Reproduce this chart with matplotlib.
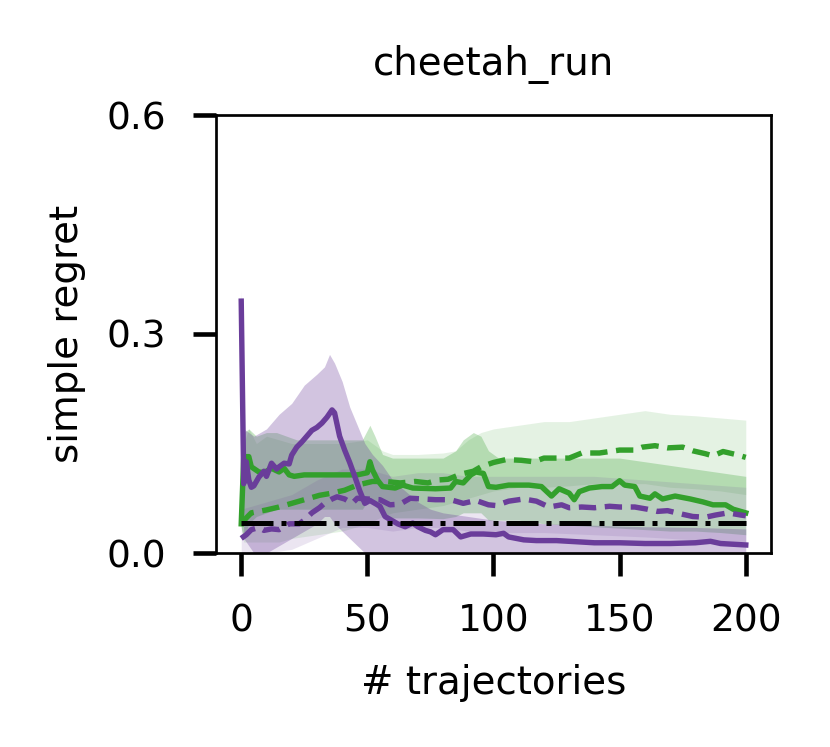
import numpy as np
import matplotlib
matplotlib.use("Agg")
import matplotlib.pyplot as plt

title = "cheetah_run"
xlabel = "# trajectories"
ylabel = "simple regret"
xticks = [0, 50, 100, 150, 200]
yticks = [0.0, 0.3, 0.6]
ytick_labels = ["0.0", "0.3", "0.6"]

# purple solid
ps_x = [0, 1, 2, 3, 4, 5, 7, 9, 10, 12, 14, 15, 17, 19, 20, 22, 24, 26, 28, 30, 32, 34, 36, 37, 39, 41, 43, 45, 47,
        49, 51, 53, 55, 57, 60, 62, 65, 68, 70, 73, 75, 77, 80, 84, 87, 91, 96, 101, 104, 106, 112, 117, 125, 130,
        140, 150, 160, 170, 180, 186, 190, 200]
ps_y = [0.345, 0.095, 0.125, 0.100, 0.090, 0.092, 0.104, 0.112, 0.105, 0.123, 0.115, 0.118, 0.123, 0.122, 0.134,
        0.145, 0.152, 0.160, 0.168, 0.172, 0.178, 0.186, 0.196, 0.192, 0.160, 0.141, 0.124, 0.105, 0.085, 0.068,
        0.072, 0.068, 0.064, 0.050, 0.044, 0.040, 0.036, 0.041, 0.036, 0.031, 0.029, 0.025, 0.032, 0.032, 0.022,
        0.026, 0.026, 0.025, 0.027, 0.022, 0.018, 0.017, 0.017, 0.016, 0.014, 0.014, 0.013, 0.013, 0.014, 0.016,
        0.013, 0.011]
ps_band_x = [0, 1, 5, 10, 15, 20, 25, 30, 33, 35, 37, 40, 43, 46, 49, 52, 56, 60, 65, 70, 75, 80, 90, 100, 120, 140,
             160, 180, 200]
ps_hi = [0.36, 0.17, 0.16, 0.17, 0.19, 0.205, 0.23, 0.245, 0.255, 0.272, 0.26, 0.235, 0.20, 0.175, 0.15, 0.135,
         0.12, 0.10, 0.085, 0.07, 0.06, 0.055, 0.05, 0.045, 0.04, 0.038, 0.036, 0.035, 0.033]
ps_lo = [0.33, 0.02, 0.0, 0.0, 0.01, 0.02, 0.03, 0.04, 0.05, 0.05, 0.04, 0.03, 0.02, 0.01, 0.0, 0.0, 0.0, 0.0, 0.0,
         0.0, 0.0, 0.0, 0.0, 0.0, 0.0, 0.0, 0.0, 0.0, 0.0]

# purple dashed
pd_x = [0, 2, 4, 7, 9, 12, 15, 19, 23, 25, 28, 31, 33, 36, 38, 41, 44, 46, 50, 55, 59, 63, 67, 72, 77, 83, 88, 93,
        98, 101, 106, 112, 117, 122, 127, 130, 135, 140, 146, 150, 156, 161, 165, 169, 175, 179, 184, 188, 193, 198,
        200]
pd_y = [0.020, 0.025, 0.032, 0.035, 0.031, 0.033, 0.032, 0.040, 0.040, 0.045, 0.055, 0.062, 0.068, 0.074, 0.077,
        0.074, 0.068, 0.075, 0.074, 0.073, 0.066, 0.067, 0.075, 0.074, 0.073, 0.073, 0.068, 0.072, 0.066, 0.065,
        0.071, 0.074, 0.071, 0.063, 0.066, 0.062, 0.063, 0.062, 0.064, 0.063, 0.063, 0.060, 0.057, 0.058, 0.053,
        0.050, 0.049, 0.052, 0.055, 0.052, 0.051]
pd_band_x = [0, 10, 20, 30, 40, 50, 60, 70, 80, 90, 100, 120, 140, 160, 180, 200]
pd_hi = [0.06, 0.07, 0.08, 0.10, 0.115, 0.115, 0.105, 0.11, 0.11, 0.105, 0.105, 0.105, 0.105, 0.10, 0.095, 0.09]
pd_lo = [0.0, 0.0, 0.005, 0.02, 0.035, 0.035, 0.03, 0.035, 0.035, 0.03, 0.028, 0.028, 0.025, 0.022, 0.018, 0.015]

# green solid
gs_x = [0, 1, 3, 4, 7, 9, 12, 15, 17, 19, 21, 25, 33, 46, 50, 51, 52, 54, 56, 61, 64, 68, 77, 83, 85, 88, 91, 93, 96,
        98, 101, 106, 114, 119, 123, 126, 130, 132, 134, 138, 143, 147, 150, 152, 156, 158, 162, 164, 167, 172, 178,
        183, 187, 192, 195, 200]
gs_y = [0.040, 0.132, 0.132, 0.118, 0.111, 0.110, 0.116, 0.111, 0.116, 0.107, 0.105, 0.107, 0.107, 0.107, 0.110,
        0.125, 0.114, 0.100, 0.091, 0.089, 0.093, 0.089, 0.088, 0.089, 0.098, 0.096, 0.107, 0.111, 0.109, 0.091,
        0.090, 0.093, 0.093, 0.091, 0.078, 0.088, 0.082, 0.073, 0.084, 0.089, 0.091, 0.091, 0.099, 0.093, 0.091,
        0.078, 0.075, 0.081, 0.074, 0.078, 0.074, 0.070, 0.066, 0.066, 0.060, 0.055]
gs_band_x = [0, 1, 3, 6, 10, 14, 18, 22, 30, 40, 48, 51, 53, 56, 60, 70, 80, 85, 88, 92, 95, 98, 102, 110, 120, 130,
             140, 150, 160, 170, 180, 190, 200]
gs_hi = [0.045, 0.165, 0.17, 0.16, 0.165, 0.165, 0.16, 0.155, 0.155, 0.155, 0.155, 0.175, 0.16, 0.135, 0.13, 0.13,
         0.13, 0.14, 0.155, 0.165, 0.16, 0.14, 0.13, 0.13, 0.13, 0.13, 0.13, 0.13, 0.125, 0.12, 0.115, 0.11, 0.105]
gs_lo = [0.035, 0.02, 0.04, 0.05, 0.055, 0.06, 0.06, 0.06, 0.06, 0.06, 0.06, 0.075, 0.065, 0.05, 0.048, 0.048,
         0.047, 0.05, 0.055, 0.055, 0.055, 0.045, 0.045, 0.045, 0.04, 0.038, 0.036, 0.034, 0.032, 0.03, 0.03, 0.028,
         0.025]

# green dashed
gd_x = [0, 2, 4, 10, 15, 20, 25, 31, 36, 41, 46, 52, 57, 63, 69, 74, 78, 82, 87, 92, 95, 100, 105, 111, 116, 120,
        124, 130, 135, 142, 150, 156, 159, 164, 169, 175, 179, 184, 187, 191, 196, 200]
gd_y = [0.040, 0.048, 0.055, 0.059, 0.063, 0.068, 0.073, 0.079, 0.082, 0.086, 0.093, 0.098, 0.098, 0.096, 0.098,
        0.096, 0.100, 0.101, 0.108, 0.112, 0.118, 0.124, 0.128, 0.127, 0.125, 0.130, 0.130, 0.130, 0.137, 0.137,
        0.141, 0.141, 0.145, 0.147, 0.144, 0.145, 0.140, 0.136, 0.133, 0.139, 0.135, 0.131]
gd_band_x = [0, 1, 3, 6, 10, 15, 20, 30, 40, 50, 56, 60, 70, 80, 85, 90, 95, 100, 110, 120, 130, 140, 150, 160, 170,
             180, 190, 200]
gd_hi = [0.045, 0.15, 0.17, 0.15, 0.16, 0.155, 0.15, 0.15, 0.15, 0.155, 0.14, 0.135, 0.135, 0.137, 0.14, 0.155,
         0.165, 0.17, 0.175, 0.18, 0.18, 0.185, 0.19, 0.195, 0.19, 0.188, 0.185, 0.182]
gd_lo = [0.035, 0.015, 0.015, 0.015, 0.015, 0.015, 0.02, 0.025, 0.03, 0.04, 0.05, 0.055, 0.06, 0.065, 0.07, 0.075,
         0.08, 0.085, 0.09, 0.09, 0.092, 0.095, 0.095, 0.095, 0.09, 0.088, 0.085, 0.08]

# reference baseline
base_x = [0, 200]
base_y = [0.041, 0.041]

GREEN = "#33a02c"
PURPLE = "#6a3d9a"

plt.rcParams['font.family'] = ['DejaVu Sans']
fig = plt.figure(figsize=(830 / 300, 747 / 300), dpi=300)
ax = fig.add_axes([216 / 830, 1 - 553 / 747, (771 - 216) / 830, (553 - 115) / 747])

ax.fill_between(gd_band_x, gd_lo, gd_hi, color=GREEN, alpha=0.13, lw=0)
ax.fill_between(gs_band_x, gs_lo, gs_hi, color=GREEN, alpha=0.27, lw=0)
ax.fill_between(pd_band_x, pd_lo, pd_hi, color=PURPLE, alpha=0.13, lw=0)
ax.fill_between(ps_band_x, ps_lo, ps_hi, color=PURPLE, alpha=0.3, lw=0)

ax.plot(gd_x, gd_y, color=GREEN, lw=1.3, ls="--", dashes=(3.2, 1.6))
ax.plot(gs_x, gs_y, color=GREEN, lw=1.3, ls="-")
ax.plot(pd_x, pd_y, color=PURPLE, lw=1.3, ls="--", dashes=(3.2, 1.6))
ax.plot(ps_x, ps_y, color=PURPLE, lw=1.3, ls="-")
ax.plot(base_x, base_y, color="black", lw=1.2, ls="-.")

ax.set_xlim(-10, 210)
ax.set_ylim(0, 0.6)
ax.set_xticks(xticks)
ax.set_yticks(yticks)
ax.set_yticklabels(ytick_labels)
for s in ax.spines.values():
    s.set_linewidth(0.65)
ax.tick_params(axis='both', length=5.5, width=1.1, pad=6.5, labelsize=9)
ax.set_title(title, fontsize=9.3, pad=9.5)
ax.set_xlabel(xlabel, fontsize=9.3, labelpad=6)
ax.set_ylabel(ylabel, fontsize=9.3, labelpad=5)

fig.savefig("out.png", dpi=300)
